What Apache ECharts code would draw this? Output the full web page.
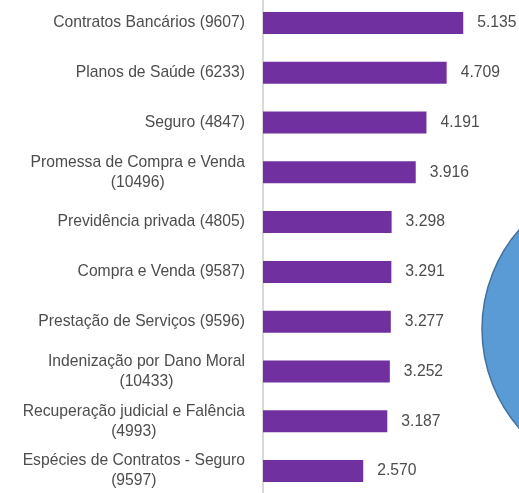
<!DOCTYPE html>
<html>
<head>
<meta charset="utf-8">
<script src="https://cdn.jsdelivr.net/npm/echarts@6/dist/echarts.min.js"></script>
<style>
  html, body { margin: 0; padding: 0; background: #fff; }
  #chart { width: 519px; height: 493px; }
</style>
</head>
<body>
<div id="chart"></div>
<script>
// categories, top to bottom
const categories = [
  'Contratos Bancários (9607)',
  'Planos de Saúde (6233)',
  'Seguro (4847)',
  'Promessa de Compra e Venda\n(10496)',
  'Previdência privada (4805)',
  'Compra e Venda (9587)',
  'Prestação de Serviços (9596)',
  'Indenização por Dano Moral\n(10433)',
  'Recuperação judicial e Falência\n(4993)',
  'Espécies de Contratos - Seguro\n(9597)'
];
const values = [5135, 4709, 4191, 3916, 3298, 3291, 3277, 3252, 3187, 2570];

const FONT = '"Liberation Sans", Arial, sans-serif';
const FONT_SIZE = 15.7;
const TEXT_COLOR = '#4d4d4d';

// 5135 -> "5.135"
const fmt = v => String(v).replace(/\B(?=(\d{3})+(?!\d))/g, '.');

const chart = echarts.init(document.getElementById('chart'), null, { renderer: 'canvas' });

chart.setOption({
  animation: false,
  backgroundColor: '#ffffff',
  grid: { left: 263, right: 22, top: -2, bottom: -3, outerBoundsMode: 'none' },
  xAxis: {
    type: 'value',
    min: 0,
    max: 6000,
    show: false
  },
  yAxis: {
    type: 'category',
    inverse: true,
    data: categories,
    axisLine: { show: true, lineStyle: { color: '#d9d9d9', width: 2 } },
    axisTick: { show: false },
    axisLabel: {
      margin: 18,
      fontFamily: FONT,
      fontSize: FONT_SIZE,
      color: TEXT_COLOR,
      lineHeight: 20,
      // each line centred inside the right-aligned label block
      formatter: v => v.split('\n').map(s => '{c|' + s + '}').join('\n'),
      rich: {
        c: { align: 'center', fontFamily: FONT, fontSize: FONT_SIZE, color: TEXT_COLOR, lineHeight: 20 }
      }
    }
  },
  series: [{
    type: 'bar',
    data: values,
    barWidth: 22,
    itemStyle: { color: '#7030a0' },
    label: {
      show: true,
      position: 'right',
      distance: 14,
      fontFamily: FONT,
      fontSize: FONT_SIZE,
      color: TEXT_COLOR,
      formatter: p => fmt(p.value)
    }
  }],
  // decorative shape cut off at the right edge
  graphic: [{
    type: 'circle',
    z: 100,
    shape: { cx: 633, cy: 329, r: 151 },
    style: { fill: '#5b9bd5', stroke: '#41719c', lineWidth: 1.5 }
  }]
});
</script>
</body>
</html>
